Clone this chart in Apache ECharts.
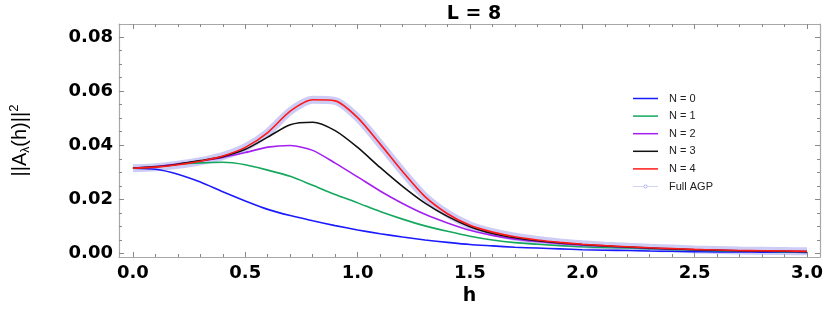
<!DOCTYPE html>
<html><head><meta charset="utf-8">
<script src="https://cdn.jsdelivr.net/npm/echarts@6/dist/echarts.min.js"></script>
<style>html,body{margin:0;padding:0;background:#fff}#c{width:830px;height:311px}</style>
</head><body><div id="c"></div>
<script>
const hValues = [0,0.1,0.2,0.3,0.4,0.5,0.6,0.7,0.8,0.9,1.0,1.1,1.2,1.3,1.4,1.5,1.6,1.7,1.8,1.9,2.0,2.1,2.2,2.3,2.4,2.5,2.6,2.7,2.8,2.9,3.0];
const n0 = [0.0315,0.0311,0.0293,0.0264,0.0228,0.0194,0.0163,0.0140,0.0121,0.0103,0.0087,0.0073,0.0061,0.0050,0.0041,0.0033,0.0028,0.0023,0.0020,0.0017,0.0014,0.0012,0.0011,0.0009,0.0008,0.0007,0.0006,0.0006,0.0005,0.0005,0.0004];
const n1 = [0.0315,0.0321,0.0330,0.0335,0.0337,0.0328,0.0308,0.0285,0.0252,0.0218,0.0187,0.0155,0.0127,0.0102,0.0082,0.0064,0.0050,0.0040,0.0034,0.0029,0.0025,0.0022,0.0020,0.0017,0.0014,0.0012,0.0010,0.0009,0.0008,0.0007,0.0006];
const n2 = [0.0315,0.0321,0.0331,0.0342,0.0355,0.0373,0.0393,0.0399,0.0381,0.0334,0.0283,0.0231,0.0185,0.0145,0.0113,0.0086,0.0067,0.0053,0.0044,0.0036,0.0031,0.0027,0.0023,0.0019,0.0016,0.0014,0.0012,0.0010,0.0009,0.0008,0.0007];
const n3 = [0.0315,0.0320,0.0330,0.0343,0.0358,0.0385,0.0430,0.0476,0.0485,0.0454,0.0392,0.0318,0.0248,0.0186,0.0137,0.0099,0.0074,0.0058,0.0047,0.0039,0.0033,0.0028,0.0024,0.0020,0.0017,0.0014,0.0012,0.0010,0.0009,0.0008,0.0007];
const n4 = [0.0315,0.0319,0.0328,0.0341,0.0360,0.0392,0.0447,0.0526,0.0568,0.0564,0.0502,0.0405,0.0303,0.0210,0.0147,0.0104,0.0079,0.0062,0.0050,0.0041,0.0034,0.0029,0.0025,0.0021,0.0018,0.0015,0.0013,0.0011,0.0010,0.0009,0.0008];
const agp = [0.0315,0.0319,0.0328,0.0341,0.0360,0.0392,0.0447,0.0526,0.0568,0.0564,0.0502,0.0405,0.0303,0.0210,0.0147,0.0104,0.0079,0.0062,0.0050,0.0041,0.0034,0.0029,0.0025,0.0021,0.0018,0.0015,0.0013,0.0011,0.0010,0.0009,0.0008];
const xMajor = [0,0.5,1.0,1.5,2.0,2.5,3.0];
const xMinor = [0.1,0.2,0.3,0.4,0.6,0.7,0.8,0.9,1.1,1.2,1.3,1.4,1.6,1.7,1.8,1.9,2.1,2.2,2.3,2.4,2.6,2.7,2.8,2.9];
const yMajor = [0,0.02,0.04,0.06,0.08];
const yMinor = [0.005,0.01,0.015,0.025,0.03,0.035,0.045,0.05,0.055,0.065,0.07,0.075];
const names = ['N = 0','N = 1','N = 2','N = 3','N = 4','Full AGP'];
const colors = ['#1a1aff','#14a85e','#a51ff0','#111111','#ff1a1a','#b8b8f0'];

const pairs = arr => hValues.map((h,i)=>[h,arr[i]]);
const XMIN=-0.062, XMAX=3.058, YMIN=-0.0013, YMAX=0.0848;
const axisGray = '#a8a8a8';
const lblFont = {fontFamily:'DejaVu Sans', fontWeight:'bold', fontSize:18, color:'#000'};

function xa(pos, vals, len, labels, line){
  return {type:'value', min:XMIN, max:XMAX, position:pos,
    axisLine:{show:line, onZero:false, lineStyle:{color:axisGray,width:1.2}},
    axisTick:{show:true, inside:true, length:len, customValues:vals, lineStyle:{color:'#888'}},
    axisLabel:labels?Object.assign({show:true, margin:7, customValues:vals, formatter:v=>v.toFixed(1)}, lblFont):{show:false},
    splitLine:{show:false}};
}
function ya(pos, vals, len, labels, line){
  return {type:'value', min:YMIN, max:YMAX, position:pos,
    axisLine:{show:line, onZero:false, lineStyle:{color:axisGray,width:1.2}},
    axisTick:{show:true, inside:true, length:len, customValues:vals, lineStyle:{color:'#888'}},
    axisLabel:labels?Object.assign({show:true, margin:6, customValues:vals, formatter:v=>v.toFixed(2)}, lblFont):{show:false},
    splitLine:{show:false}};
}
const xAxes = [xa('bottom',xMajor,5,true,true), xa('bottom',xMinor,3,false,false), xa('top',xMajor,5,false,true), xa('top',xMinor,3,false,false)];
xAxes[0].name='h'; xAxes[0].nameLocation='middle'; xAxes[0].nameGap=30;
xAxes[0].nameTextStyle={fontFamily:'DejaVu Sans',fontWeight:'bold',fontSize:19,color:'#000'};
const yAxes = [ya('left',yMajor,5,true,true), ya('left',yMinor,3,false,false), ya('right',yMajor,5,false,true), ya('right',yMinor,3,false,false)];
yAxes[0].name='||A{sub|λ}(h)||{sup|2}'; yAxes[0].nameLocation='middle'; yAxes[0].nameGap=86; yAxes[0].nameRotate=90;
yAxes[0].nameTextStyle={fontFamily:'Liberation Sans',fontSize:20,color:'#000',
  rich:{sub:{fontFamily:'Liberation Sans',fontSize:12,color:'#000',padding:[10,0,0,0]},
        sup:{fontFamily:'Liberation Sans',fontSize:13,color:'#000',padding:[0,0,12,0]}}};

const SM = 0.25;
const series = [];
series.push({name:names[5], type:'line', data:pairs(agp), smooth:SM, symbol:'circle', symbolSize:5, showSymbol:false,
  lineStyle:{color:'rgba(170,170,240,0.6)', width:8}, itemStyle:{color:'#c4c4f2'}, z:1, animation:false});
[n0,n1,n2,n3,n4].forEach((arr,i)=>{
  series.push({name:names[i], type:'line', data:pairs(arr), smooth:SM, symbol:'none',
    lineStyle:{color:colors[i], width:1.6}, itemStyle:{color:colors[i]}, z:2+i, animation:false});
});
const linePath = 'path://M0,0H50V3H0Z';
const agpIcon = 'path://M0,4.4H21V5.6H0Z M29,4.4H50V5.6H29Z M21,5A4,4 0 1,0 29,5A4,4 0 1,0 21,5Z M22.4,5A2.6,2.6 0 1,1 27.6,5A2.6,2.6 0 1,1 22.4,5Z';
const legendData = names.map((n,i)=> i<5 ? {name:n, icon:linePath, itemStyle:{color:colors[i]}} :
  {name:n, icon:agpIcon, itemStyle:{color:'#a8a8ec'}});

const chart = echarts.init(document.getElementById('c'), null, {renderer:'canvas'});
chart.setOption({
  animation:false,
  title:{text:'L = 8', left:469, textAlign:'center', top:0,
    textStyle:{fontFamily:'DejaVu Sans',fontWeight:'bold',fontSize:19,color:'#000'}},
  grid:{left:118, right:10, top:24, bottom:49, containLabel:false},
  legend:{data:legendData, orient:'vertical', left:628, top:88, itemWidth:25, itemHeight:10, itemGap:6.6, symbolKeepAspect:true,
    textStyle:{fontFamily:'Liberation Sans', fontSize:11, color:'#222', padding:[0,0,0,6]}},
  xAxis:xAxes, yAxis:yAxes, series:series
});
</script></body></html>
